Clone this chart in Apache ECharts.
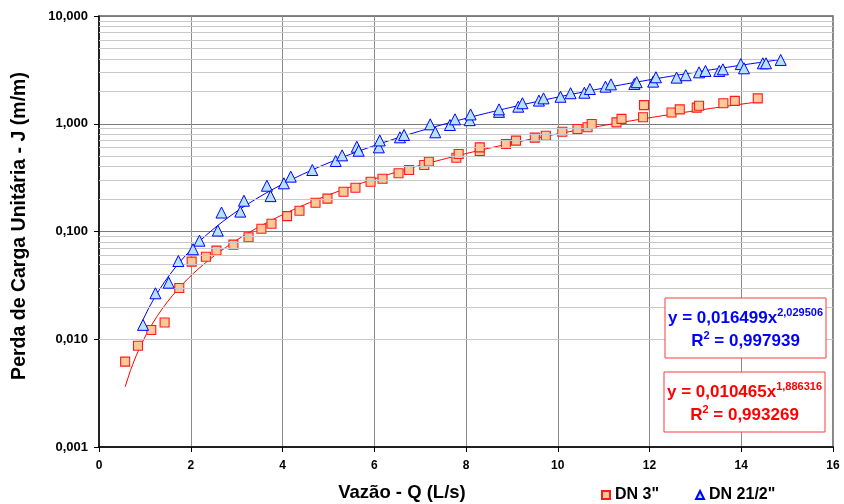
<!DOCTYPE html>
<html>
<head>
<meta charset="utf-8">
<script src="https://cdn.jsdelivr.net/npm/echarts/dist/echarts.min.js"></script>
<style>
html,body{margin:0;padding:0;background:#fff;}
#chart{width:844px;height:504px;}
</style>
</head>
<body>
<div id="chart"></div>
<script>
// ---- Data ----
var q3 = [0.57,0.85,1.14,1.43,1.75,2.02,2.33,2.56,2.93,3.26,3.54,3.76,4.10,4.37,4.72,4.98,5.33,5.59,5.92,6.18,6.53,6.76,7.09,7.19,7.79,7.84,8.30,8.30,8.87,9.09,9.50,9.74,10.10,10.43,10.65,10.74,11.28,11.39,11.86,11.88,12.48,12.66,13.03,13.08,13.61,13.86,14.36];
var j3 = [0.0062,0.0087,0.0122,0.0143,0.0299,0.0525,0.0583,0.0664,0.0755,0.0883,0.106,0.118,0.139,0.156,0.185,0.202,0.234,0.255,0.290,0.309,0.347,0.372,0.414,0.445,0.484,0.524,0.558,0.604,0.649,0.697,0.743,0.775,0.843,0.893,0.927,0.995,1.03,1.11,1.15,1.49,1.27,1.36,1.41,1.47,1.55,1.63,1.72];
var q25 = [0.96,1.23,1.52,1.73,2.05,2.19,2.59,2.67,3.08,3.16,3.66,3.74,4.03,4.18,4.65,5.16,5.30,5.62,5.66,6.10,6.12,6.56,6.65,7.22,7.33,7.65,7.76,8.08,8.10,8.72,8.72,9.14,9.23,9.59,9.69,10.06,10.28,10.58,10.70,11.04,11.16,11.67,11.72,12.08,12.14,12.59,12.79,13.08,13.22,13.52,13.60,13.99,14.06,14.47,14.54,14.86];
var j25 = [0.0136,0.0267,0.0335,0.0532,0.0684,0.0822,0.102,0.150,0.153,0.193,0.266,0.213,0.280,0.323,0.372,0.451,0.509,0.612,0.562,0.604,0.700,0.748,0.787,0.988,0.833,0.973,1.10,1.08,1.22,1.29,1.36,1.44,1.55,1.64,1.72,1.78,1.92,1.94,2.10,2.21,2.32,2.34,2.43,2.46,2.70,2.68,2.82,3.00,3.09,3.09,3.20,3.58,3.27,3.64,3.64,3.91];

// Trendline (power fit) coefficients shown on the chart
var fit3 = {a: 0.010465, b: 1.886316, r2: '0,993269', aTxt: '0,010465', bTxt: '1,886316'};
var fit25 = {a: 0.016499, b: 2.029506, r2: '0,997939', aTxt: '0,016499', bTxt: '2,029506'};

var seriesNames = ['DN 3"', 'DN 21/2"'];
var xTicks = {min: 0, max: 16, interval: 2};
var yTicks = {min: 0.001, max: 10};
var xTitle = 'Vazão - Q (L/s)';
var yTitle = 'Perda de Carga Unitária - J (m/m)';

// ---- Build ----
function pairs(xs, ys){ return xs.map(function(x,i){ return [x, ys[i]]; }); }
function trend(fit, xs){
  var x0 = Math.min.apply(null, xs), x1 = Math.max.apply(null, xs), out = [];
  var n = 120;
  for (var i = 0; i <= n; i++){ var x = x0 + (x1 - x0) * i / n; out.push([x, fit.a * Math.pow(x, fit.b)]); }
  return out;
}
var minorLines = [];
for (var d = -3; d <= 0; d++){ for (var k = 2; k <= 9; k++){ minorLines.push({yAxis: k * Math.pow(10, d)}); } }

var FONT = "'Liberation Sans', Arial, sans-serif";
var chart = echarts.init(document.getElementById('chart'), null, {renderer: 'canvas'});

function eqText(fit, color, cx, cy){
  return {
    type: 'text', x: cx, y: cy, z: 100,
    style: {
      text: '{m|y = ' + fit.aTxt + 'x}{s|' + fit.bTxt + '}\n{m|R}{s|2}{m| = ' + fit.r2 + '}',
      align: 'center', verticalAlign: 'middle',
      textAlign: 'center', textVerticalAlign: 'middle',
      fill: color,
      rich: {
        m: {fontFamily: FONT, fontWeight: 'bold', fontSize: 17, lineHeight: 23, color: color, align: 'center'},
        s: {fontFamily: FONT, fontWeight: 'bold', fontSize: 11, lineHeight: 12, color: color, align: 'center', verticalAlign: 'top'}
      }
    }
  };
}

var option = {
  animation: false,
  backgroundColor: '#ffffff',
  grid: {left: 99, right: 11, top: 16, bottom: 57, show: true, borderColor: '#606060', borderWidth: 1.5, backgroundColor: 'transparent'},
  xAxis: {
    type: 'value', min: xTicks.min, max: xTicks.max, interval: xTicks.interval,
    axisLine: {show: true, onZero: false, lineStyle: {color: '#000', width: 1.5}},
    axisTick: {show: true, inside: false, length: 5, lineStyle: {color: '#000'}},
    axisLabel: {color: '#000', fontFamily: FONT, fontWeight: 'bold', fontSize: 12, margin: 13},
    splitLine: {show: true, lineStyle: {color: '#8c8c8c', width: 1}}
  },
  yAxis: {
    type: 'log', logBase: 10, min: yTicks.min, max: yTicks.max, splitNumber: 4,
    axisLine: {show: true, lineStyle: {color: '#000', width: 1.5}},
    axisTick: {show: true, inside: false, length: 5, lineStyle: {color: '#000'}},
    axisLabel: {color: '#000', fontFamily: FONT, fontWeight: 'bold', fontSize: 13, margin: 11,
      formatter: function(v){ return Number(v).toFixed(3).replace('.', ','); }},
    splitLine: {show: true, lineStyle: {color: '#7a7a7a', width: 1}}
  },
  legend: {
    show: true, left: 596, top: 482, itemWidth: 8, itemHeight: 8, itemGap: 36,
    textStyle: {color: '#000', fontFamily: FONT, fontWeight: 'bold', fontSize: 16},
    data: [{name: seriesNames[0], icon: 'rect'}, {name: seriesNames[1], icon: 'triangle'}]
  },
  series: [
    {
      type: 'line', name: 'minorgrid', data: [], silent: true, z: 0,
      markLine: {silent: true, symbol: ['none','none'], label: {show: false},
        lineStyle: {color: '#c8c8c8', width: 1, type: 'solid'}, data: minorLines, animation: false}
    },
    {
      type: 'line', name: 'fit3', data: trend(fit3, q3), showSymbol: false, symbol: 'none', silent: true, z: 3,
      lineStyle: {color: '#ff0000', width: 1}
    },
    {
      type: 'line', name: 'fit25', data: trend(fit25, q25), showSymbol: false, symbol: 'none', silent: true, z: 3,
      lineStyle: {color: '#0000ff', width: 1}
    },
    {
      type: 'scatter', name: seriesNames[0], data: pairs(q3, j3), symbol: 'rect', symbolSize: 9, z: 4,
      itemStyle: {color: '#ffc896', borderColor: '#ff1a1a', borderWidth: 1.1, opacity: 1}
    },
    {
      type: 'scatter', name: seriesNames[1], data: pairs(q25, j25), symbol: 'triangle', symbolSize: 11, z: 5,
      itemStyle: {color: '#b4e2ff', borderColor: '#0000ff', borderWidth: 1, opacity: 1}
    }
  ],
  graphic: [
    {type: 'text', x: 402, y: 493, z: 100, style: {text: xTitle, fontFamily: FONT, fontWeight: 'bold', fontSize: 18.5, fill: '#000', align: 'center', verticalAlign: 'middle', textAlign: 'center', textVerticalAlign: 'middle'}},
    {type: 'text', x: 20, y: 226, rotation: Math.PI / 2, z: 100, style: {text: yTitle, fontFamily: FONT, fontWeight: 'bold', fontSize: 19.5, fill: '#000', align: 'center', verticalAlign: 'middle', textAlign: 'center', textVerticalAlign: 'middle'}},
    {type: 'rect', z: 90, shape: {x: 665, y: 298, width: 161, height: 60}, style: {fill: '#ffffff', stroke: '#ff3b3b', lineWidth: 1}},
    eqText(fit25, '#0000ff', 745.5, 330),
    {type: 'rect', z: 90, shape: {x: 664, y: 372, width: 161, height: 60}, style: {fill: '#ffffff', stroke: '#ff3b3b', lineWidth: 1}},
    eqText(fit3, '#ff0000', 744.5, 404)
  ]
};
chart.setOption(option);
</script>
</body>
</html>
